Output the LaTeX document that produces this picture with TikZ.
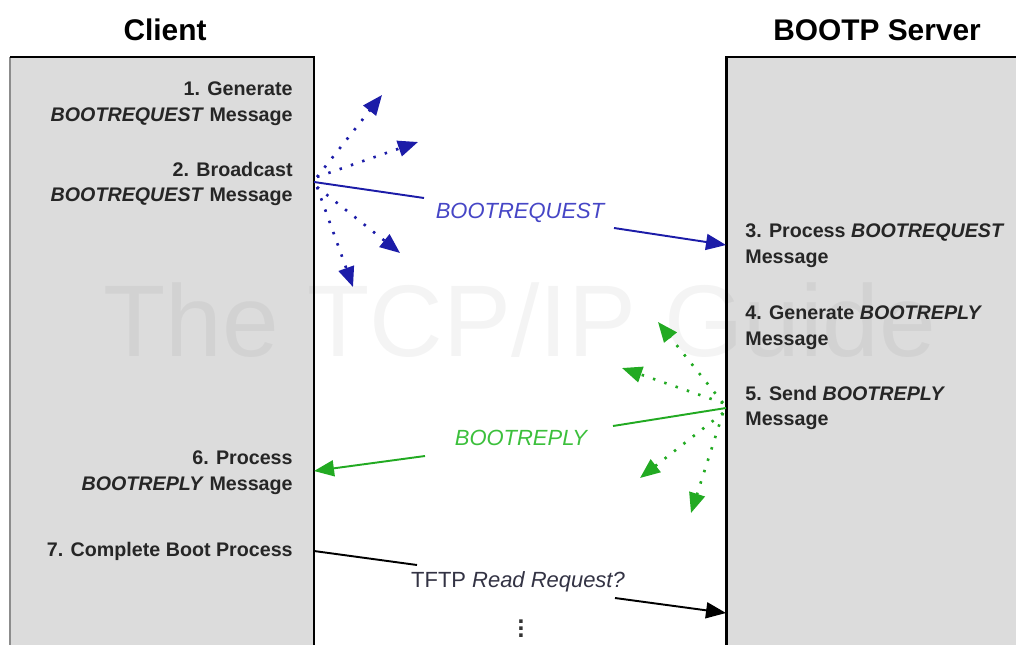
\documentclass[tikz,border=0pt]{standalone}
\usepackage{fontspec}
\setmainfont{Liberation Sans}
\usetikzlibrary{arrows.meta}
\definecolor{boxgray}{HTML}{DCDCDC}
\definecolor{reqblue}{HTML}{1C1CA8}
\definecolor{reqlab}{HTML}{4646C6}
\definecolor{repgreen}{HTML}{22AA22}
\definecolor{replab}{HTML}{3CC03C}
\definecolor{tftp}{HTML}{333344}
\begin{document}
\begin{tikzpicture}[x=0.02cm,y=-0.02cm,
  tip/.style={-{Triangle[length=0.4cm,width=0.32cm]}},
  seg/.style={line width=1.1pt},
  msg/.style={line width=1.1pt, tip},
  bcast/.style={line width=1.5pt, dash pattern=on 1.4pt off 5.4pt, tip},
  steptext/.style={font=\bfseries\fontsize{11.2}{14.6}\selectfont, text=black!85, inner sep=0pt},
  title/.style={font=\bfseries\fontsize{17}{20}\selectfont, inner sep=0pt},
  msglabel/.style={font=\fontsize{12.5}{15}\selectfont, inner sep=0pt}]
\useasboundingbox (0,0) rectangle (1016,645);
\fill[white] (0,0) rectangle (1016,645);
% boxes
\fill[boxgray] (10,57) rectangle (314,645);
\draw[black!45, line width=1pt] (10,57) -- (10,645);
\draw[line width=1.7pt] (10,57) -- (314,57) -- (314,645);
\fill[boxgray] (726,57) rectangle (1016,645);
\draw[line width=1.7pt] (1016,57) -- (726,57) -- (726,645);
% watermark
\node[font=\fontsize{58}{62}\selectfont, text=black, opacity=0.045] (wm) at (520,320) {The TCP/IP Guide};
% titles
\node[title] (client) at (165,30) {Client};
\node[title] (server) at (877,30) {BOOTP Server};
% client steps
\node[steptext, align=right, anchor=east] (s1) at (293,104) {1. Generate\\\textit{BOOTREQUEST} Message};
\node[steptext, align=right, anchor=east] (s2) at (293,184) {2. Broadcast\\\textit{BOOTREQUEST} Message};
\node[steptext, align=right, anchor=east] (s6) at (293,473) {6. Process\\\textit{BOOTREPLY} Message};
\node[steptext, align=right, anchor=east] (s7) at (293,551) {7. Complete Boot Process};
% server steps
\node[steptext, align=left, anchor=west] (s3) at (745,246) {3. Process \textit{BOOTREQUEST}\\Message};
\node[steptext, align=left, anchor=west] (s4) at (745,328) {4. Generate \textit{BOOTREPLY}\\Message};
\node[steptext, align=left, anchor=west] (s5) at (745,408) {5. Send \textit{BOOTREPLY}\\Message};
% BOOTREQUEST
\coordinate (reqsrc) at (314,182);
\coordinate (reqa) at (424,198);
\coordinate (reqb) at (614,228);
\coordinate (reqdst) at (726,245);
\node[msglabel, text=reqlab] (reqlabel) at (520,213) {\itshape BOOTREQUEST};
\draw[seg, reqblue] (reqsrc) -- (reqa);
\draw[msg, reqblue] (reqb) -- (reqdst);
\coordinate (bu) at (317,177);
\coordinate (bd) at (317,187);
\coordinate (b1) at (382,95);
\coordinate (b2) at (418,142);
\coordinate (b3) at (400,253);
\coordinate (b4) at (353,287);
\draw[bcast, reqblue] (bu) -- (b1);
\draw[bcast, reqblue] (bu) -- (b2);
\draw[bcast, reqblue] (bd) -- (b3);
\draw[bcast, reqblue] (bd) -- (b4);
% BOOTREPLY
\coordinate (repsrc) at (726,408);
\coordinate (repa) at (613,426);
\coordinate (repb) at (425,456);
\coordinate (repdst) at (314,471);
\node[msglabel, text=replab] (replabel) at (521,438) {\itshape BOOTREPLY};
\draw[seg, repgreen] (repsrc) -- (repa);
\draw[msg, repgreen] (repb) -- (repdst);
\coordinate (gu) at (723,403);
\coordinate (gd) at (723,413);
\coordinate (g1) at (658,322);
\coordinate (g2) at (622,368);
\coordinate (g3) at (640,478);
\coordinate (g4) at (691,513);
\draw[bcast, repgreen] (gu) -- (g1);
\draw[bcast, repgreen] (gu) -- (g2);
\draw[bcast, repgreen] (gd) -- (g3);
\draw[bcast, repgreen] (gd) -- (g4);
% TFTP
\coordinate (tsrc) at (314,551);
\coordinate (ta) at (417,565);
\coordinate (tb) at (615,598);
\coordinate (tdst) at (726,613);
\node[msglabel, text=tftp] (tlabel) at (518,582) {TFTP \textit{Read Request?}};
\draw[seg] (tsrc) -- (ta);
\draw[msg] (tb) -- (tdst);
\node[font=\bfseries\fontsize{14}{15}\selectfont, text=black!80, inner sep=0pt] (dots) at (521,623) {$\vdots$};
\end{tikzpicture}
\end{document}
